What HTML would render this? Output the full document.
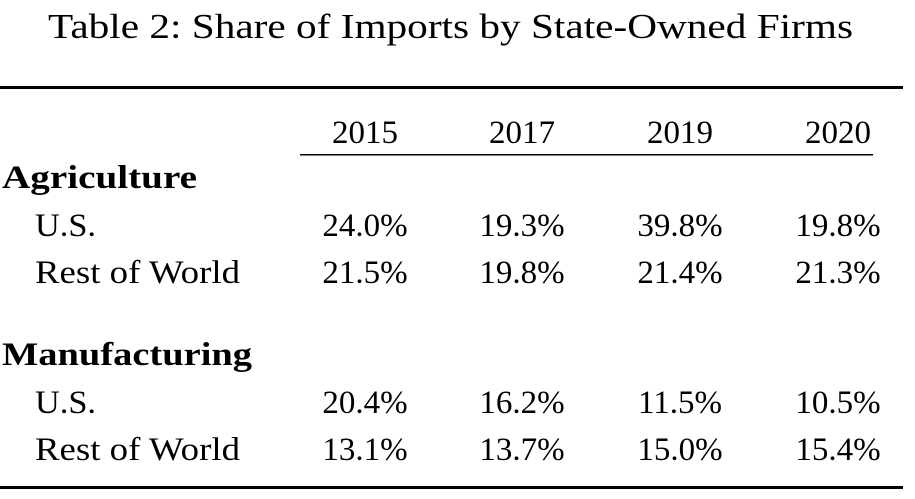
<!DOCTYPE html>
<html>
<head>
<meta charset="utf-8">
<style>
html,body{margin:0;padding:0;background:#fff;}
svg{display:block;}
text{font-family:"Liberation Serif","DejaVu Serif",serif;fill:#000;}
.b{font-weight:bold;}
</style>
</head>
<body>
<svg width="915" height="499" viewBox="0 0 915 499">
  <text x="48" y="38" font-size="35" textLength="805" lengthAdjust="spacingAndGlyphs">Table 2: Share of Imports by State-Owned Firms</text>
  <rect x="0" y="86" width="903" height="3"/>
  <g font-size="33">
    <text x="365" y="143" text-anchor="middle">2015</text>
    <text x="522" y="143" text-anchor="middle">2017</text>
    <text x="680" y="143" text-anchor="middle">2019</text>
    <text x="838" y="143" text-anchor="middle">2020</text>
  </g>
  <rect x="300" y="154" width="573" height="1.5"/>
  <text class="b" x="2" y="188" font-size="33" textLength="195" lengthAdjust="spacingAndGlyphs">Agriculture</text>
  <g font-size="33">
    <text x="35" y="236" textLength="61" lengthAdjust="spacingAndGlyphs">U.S.</text>
    <text x="365" y="236" text-anchor="middle">24.0%</text>
    <text x="522" y="236" text-anchor="middle">19.3%</text>
    <text x="680" y="236" text-anchor="middle">39.8%</text>
    <text x="838" y="236" text-anchor="middle">19.8%</text>
  </g>
  <g font-size="33">
    <text x="35" y="283" textLength="205" lengthAdjust="spacingAndGlyphs">Rest of World</text>
    <text x="365" y="283" text-anchor="middle">21.5%</text>
    <text x="522" y="283" text-anchor="middle">19.8%</text>
    <text x="680" y="283" text-anchor="middle">21.4%</text>
    <text x="838" y="283" text-anchor="middle">21.3%</text>
  </g>
  <text class="b" x="2" y="365" font-size="33" textLength="250" lengthAdjust="spacingAndGlyphs">Manufacturing</text>
  <g font-size="33">
    <text x="35" y="413" textLength="61" lengthAdjust="spacingAndGlyphs">U.S.</text>
    <text x="365" y="413" text-anchor="middle">20.4%</text>
    <text x="522" y="413" text-anchor="middle">16.2%</text>
    <text x="680" y="413" text-anchor="middle">11.5%</text>
    <text x="838" y="413" text-anchor="middle">10.5%</text>
  </g>
  <g font-size="33">
    <text x="35" y="460" textLength="205" lengthAdjust="spacingAndGlyphs">Rest of World</text>
    <text x="365" y="460" text-anchor="middle">13.1%</text>
    <text x="522" y="460" text-anchor="middle">13.7%</text>
    <text x="680" y="460" text-anchor="middle">15.0%</text>
    <text x="838" y="460" text-anchor="middle">15.4%</text>
  </g>
  <rect x="0" y="486" width="903" height="3"/>
</svg>
</body>
</html>
